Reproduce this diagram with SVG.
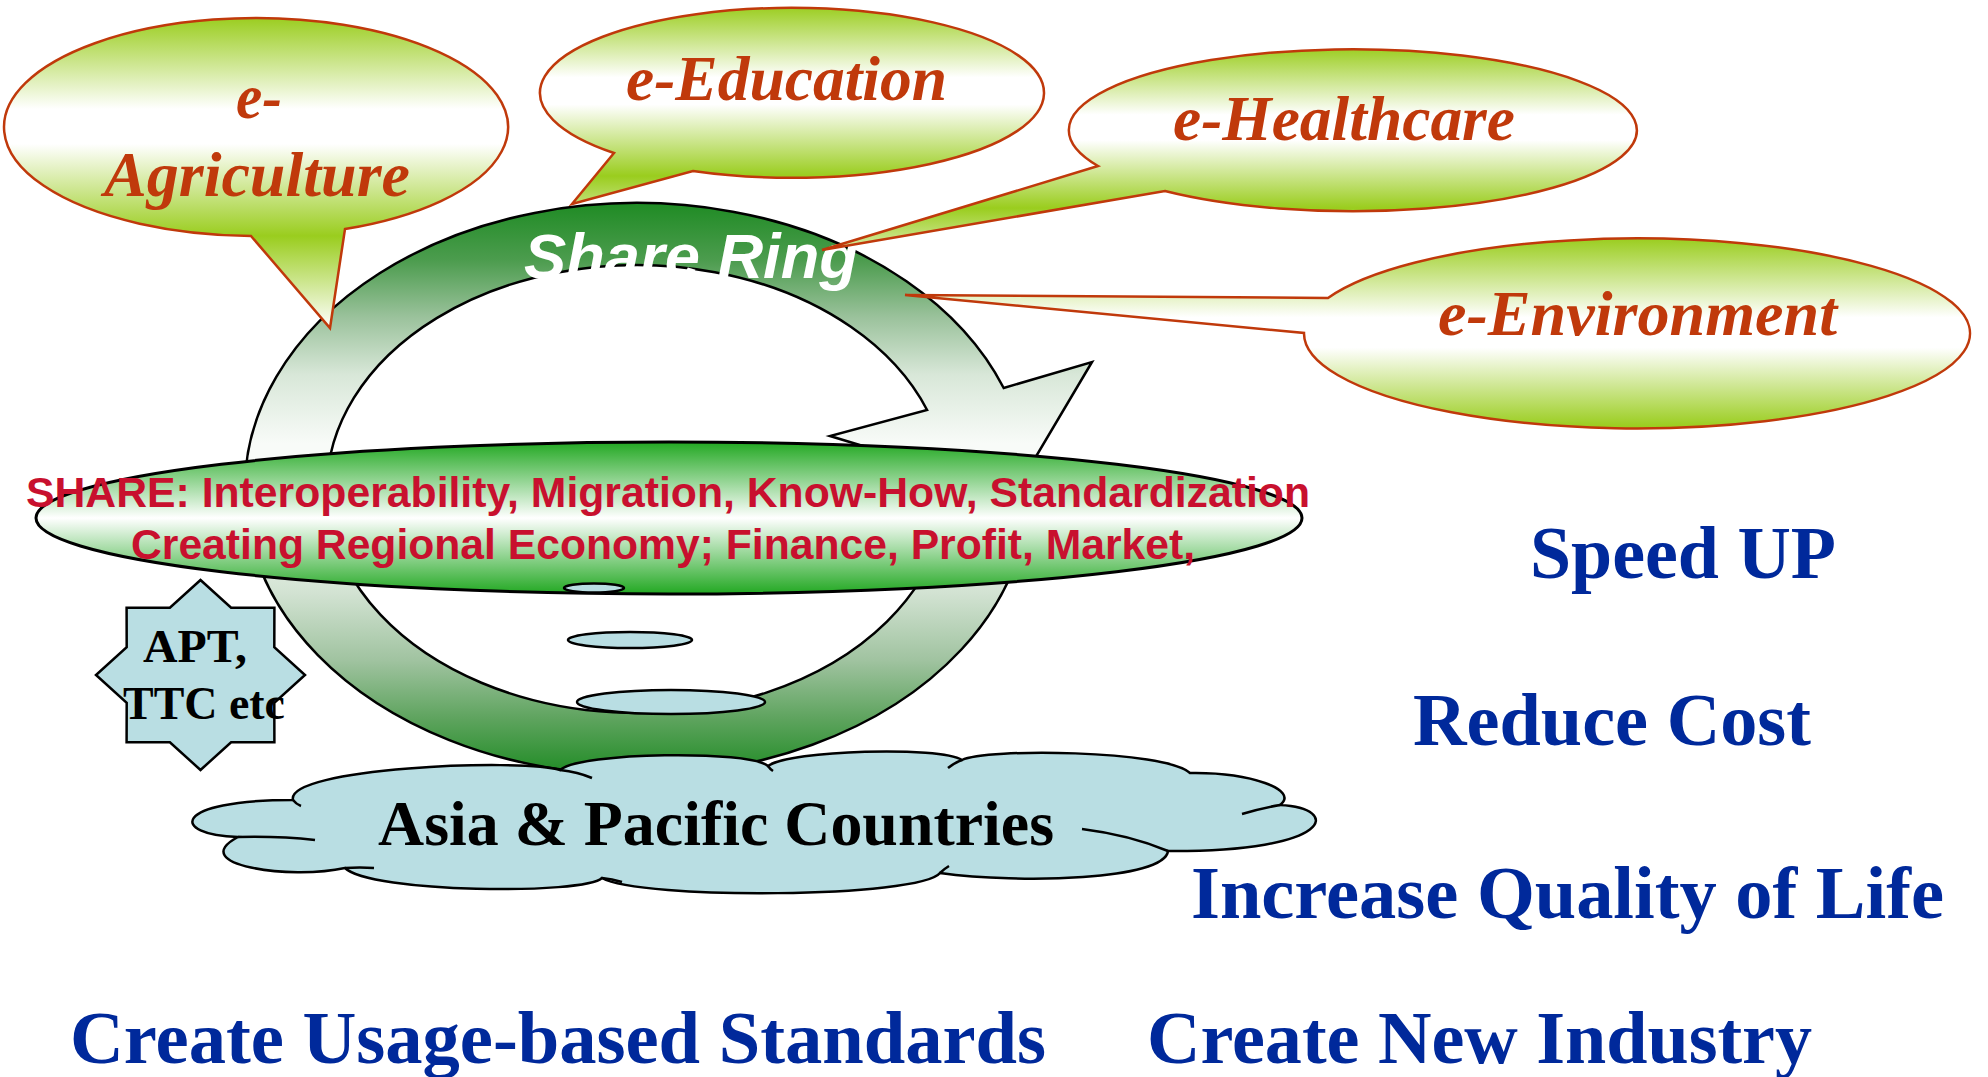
<svg xmlns="http://www.w3.org/2000/svg" width="1988" height="1077" viewBox="0 0 1988 1077">
<style>
.bub{stroke:#C0390B;stroke-width:2.5}
.btxt{font-family:"Liberation Serif","Times New Roman",serif;font-weight:bold;font-style:italic;font-size:64px;fill:#C0390B}
.blue{font-family:"Liberation Serif","Times New Roman",serif;font-weight:bold;font-size:74px;fill:#00299B}
.lb{fill:#B9DEE3;stroke:#000;stroke-width:2.5}
.fold{fill:none;stroke:#000;stroke-width:2.5}
.share{font-family:"Liberation Sans",Arial,sans-serif;font-weight:bold;font-size:43px;fill:#C8102E}
.blk{font-family:"Liberation Serif","Times New Roman",serif;font-weight:bold;fill:#000}
</style>
<defs>
<linearGradient id="gRing" gradientUnits="userSpaceOnUse" x1="0" y1="203" x2="0" y2="775">
<stop offset="0" stop-color="#1F8B24"/>
<stop offset="0.1" stop-color="#4C9C4E"/>
<stop offset="0.2" stop-color="#9BC29C"/>
<stop offset="0.3" stop-color="#D8E7D8"/>
<stop offset="0.42" stop-color="#F8FBF8"/>
<stop offset="0.55" stop-color="#F8FBF8"/>
<stop offset="0.68" stop-color="#D3E3D3"/>
<stop offset="0.8" stop-color="#A0C3A0"/>
<stop offset="0.9" stop-color="#5FA45F"/>
<stop offset="1" stop-color="#1F8B24"/>
</linearGradient>
<linearGradient id="gShare" gradientUnits="userSpaceOnUse" x1="0" y1="442" x2="0" y2="594">
<stop offset="0" stop-color="#22A822"/>
<stop offset="0.5" stop-color="#FFFFFF"/>
<stop offset="1" stop-color="#22A822"/>
</linearGradient>
<linearGradient id="gAgr" gradientUnits="userSpaceOnUse" x1="0" y1="17" x2="0" y2="236" spreadMethod="reflect">
<stop offset="0" stop-color="#9ACD1E"/><stop offset="0.42" stop-color="#FFFFFF"/><stop offset="0.58" stop-color="#FFFFFF"/><stop offset="1" stop-color="#9ACD1E"/>
</linearGradient>
<linearGradient id="gEdu" gradientUnits="userSpaceOnUse" x1="0" y1="6" x2="0" y2="176" spreadMethod="reflect">
<stop offset="0" stop-color="#9ACD1E"/><stop offset="0.42" stop-color="#FFFFFF"/><stop offset="0.58" stop-color="#FFFFFF"/><stop offset="1" stop-color="#9ACD1E"/>
</linearGradient>
<linearGradient id="gHea" gradientUnits="userSpaceOnUse" x1="0" y1="47" x2="0" y2="208" spreadMethod="reflect">
<stop offset="0" stop-color="#9ACD1E"/><stop offset="0.42" stop-color="#FFFFFF"/><stop offset="0.58" stop-color="#FFFFFF"/><stop offset="1" stop-color="#9ACD1E"/>
</linearGradient>
<linearGradient id="gEnv" gradientUnits="userSpaceOnUse" x1="0" y1="238" x2="0" y2="427" spreadMethod="reflect">
<stop offset="0" stop-color="#9ACD1E"/><stop offset="0.42" stop-color="#FFFFFF"/><stop offset="0.58" stop-color="#FFFFFF"/><stop offset="1" stop-color="#9ACD1E"/>
</linearGradient>
</defs>
<rect width="1988" height="1077" fill="#FFFFFF"/>

<g id="share-ring">
<path d="M1024.9,530 A392,286 0 1 1 1003.7,388 L1092,362 L1015,492 L830,436 L927.1,410 A310,224 0 1 0 941.8,530 Z" fill="url(#gRing)" stroke="#000" stroke-width="2.5"/>
<text x="524" y="278" textLength="334" lengthAdjust="spacingAndGlyphs" style="font-family:'Liberation Sans',Arial,sans-serif;font-weight:bold;font-style:italic;font-size:63px;fill:#FFFFFF">Share Ring</text>
</g>

<g id="share-box">
<ellipse cx="669" cy="518" rx="633" ry="76" fill="url(#gShare)" stroke="#000" stroke-width="3"/>
<text class="share" x="26" y="507" textLength="1284" lengthAdjust="spacingAndGlyphs">SHARE: Interoperability, Migration, Know-How, Standardization</text>
<text class="share" x="131" y="559" textLength="1064" lengthAdjust="spacingAndGlyphs">Creating Regional Economy; Finance, Profit, Market,</text>
</g>

<g id="trail">
<ellipse class="lb" cx="594" cy="588" rx="30" ry="4.5" stroke-width="2"/>
<ellipse class="lb" cx="630" cy="640" rx="62" ry="8" stroke-width="2"/>
<ellipse class="lb" cx="671" cy="702" rx="94" ry="12" stroke-width="2"/>
</g>

<g id="asia-pacific">
<path class="lb" stroke-width="3" d="M293,800 C285,768 520,758 560,770 C580,752 750,750 768,766 C790,750 940,746 962,760 C985,748 1165,750 1190,773 C1250,772 1300,790 1280,805 C1342,808 1335,852 1168,851 C1165,880 1020,884 940,873 C920,898 640,900 602,878 C585,895 370,893 345,868 C290,880 185,865 238,837 C170,835 170,800 293,800 Z"/>
<path class="fold" d="M293,800 Q296,804 301,806 M560,770 Q578,772 592,778 M768,766 Q770,769 773,771 M962,760 Q954,763 948,768 M1280,805 Q1262,808 1242,814 M1168,851 Q1130,835 1082,829 M940,873 Q944,869 949,866 M602,878 Q612,879 622,882 M345,868 Q360,867 374,868 M238,837 Q280,836 315,840"/>
<text class="blk" x="378" y="845" font-size="64" textLength="676" lengthAdjust="spacingAndGlyphs">Asia &amp; Pacific Countries</text>
</g>

<g id="apt">
<polygon class="lb" points="200.5,580 231.1,607.8 274.4,607.8 274.3,647.2 305,675 274.3,702.8 274.4,742.2 231.1,742.2 200.5,770 169.9,742.2 126.6,742.2 126.7,702.8 96,675 126.7,647.2 126.6,607.8 169.9,607.8"/>
<text class="blk" x="143" y="662" font-size="46" textLength="104" lengthAdjust="spacingAndGlyphs">APT,</text>
<text class="blk" x="123" y="719" font-size="46" textLength="162" lengthAdjust="spacingAndGlyphs">TTC etc</text>
</g>

<g id="e-agriculture">
<path class="bub" fill="url(#gAgr)" d="M251,236 L330,328 L345,229 A252,109 0 1 0 251,236 Z"/>
<text class="btxt" x="236" y="118" textLength="46" lengthAdjust="spacingAndGlyphs">e-</text>
<text class="btxt" x="104" y="196" textLength="306" lengthAdjust="spacingAndGlyphs">Agriculture</text>
</g>

<g id="e-education">
<path class="bub" fill="url(#gEdu)" d="M614,153 L572,204 L693,171 A252,85 0 1 0 614,153 Z"/>
<text class="btxt" x="626" y="100" textLength="321" lengthAdjust="spacingAndGlyphs">e-Education</text>
</g>

<g id="e-healthcare">
<path class="bub" fill="url(#gHea)" d="M1098,166 L822,250 L1165,191 A284,81 0 1 0 1098,166 Z"/>
<text class="btxt" x="1173" y="140" textLength="342" lengthAdjust="spacingAndGlyphs">e-Healthcare</text>
</g>

<g id="e-environment">
<path class="bub" fill="url(#gEnv)" d="M1328,298 L905,295 L1304,333 A333,95 0 1 0 1328,298 Z"/>
<text class="btxt" x="1438" y="335" textLength="399" lengthAdjust="spacingAndGlyphs">e-Environment</text>
</g>

<g id="connectors"></g>

<g id="outcomes">
<text class="blue" x="1530" y="578" textLength="306" lengthAdjust="spacingAndGlyphs">Speed UP</text>
<text class="blue" x="1413" y="745" textLength="398" lengthAdjust="spacingAndGlyphs">Reduce Cost</text>
<text class="blue" x="1191" y="918" textLength="753" lengthAdjust="spacingAndGlyphs">Increase Quality of Life</text>
<text class="blue" x="70" y="1063" textLength="976" lengthAdjust="spacingAndGlyphs">Create Usage-based Standards</text>
<text class="blue" x="1147" y="1063" textLength="665" lengthAdjust="spacingAndGlyphs">Create New Industry</text>
</g>
</svg>
